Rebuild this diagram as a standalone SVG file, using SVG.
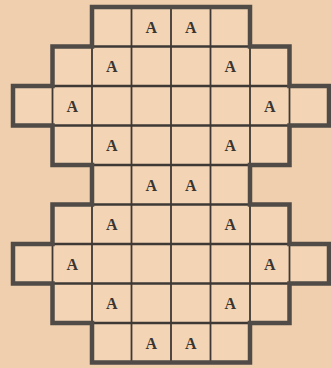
<svg xmlns="http://www.w3.org/2000/svg" width="331" height="368" viewBox="0 0 331 368">
<style>
.bg{fill:#efcfae}
.shape{fill:#f3d5b6;stroke:none}
.outline{fill:none;stroke:#504b46;stroke-width:4.5;stroke-linejoin:miter}
.h{stroke:#3e3934;stroke-width:2.4}
.v{stroke:#3e3934;stroke-width:1.8}
.a{font-family:"Liberation Serif","DejaVu Serif",serif;font-weight:bold;font-size:16px;fill:#3a3530;text-anchor:middle}
</style>
<rect class="bg" x="0" y="0" width="331" height="368"/>
<g id="board">
<polygon class="shape" points="92,7 250,7 250,46.5 289.5,46.5 289.5,86 329,86 329,125.5 289.5,125.5 289.5,165 250,165 250,204.5 289.5,204.5 289.5,244 329,244 329,283.5 289.5,283.5 289.5,323 250,323 250,362.5 92,362.5 92,323 52.5,323 52.5,283.5 13,283.5 13,244 52.5,244 52.5,204.5 92,204.5 92,165 52.5,165 52.5,125.5 13,125.5 13,86 52.5,86 52.5,46.5 92,46.5"/>
</g>
<g id="grid">
<line class="h" x1="92" y1="46.5" x2="250" y2="46.5"/>
<line class="h" x1="52.5" y1="86" x2="289.5" y2="86"/>
<line class="h" x1="52.5" y1="125.5" x2="289.5" y2="125.5"/>
<line class="h" x1="92" y1="165" x2="250" y2="165"/>
<line class="h" x1="92" y1="204.5" x2="250" y2="204.5"/>
<line class="h" x1="52.5" y1="244" x2="289.5" y2="244"/>
<line class="h" x1="52.5" y1="283.5" x2="289.5" y2="283.5"/>
<line class="h" x1="92" y1="323" x2="250" y2="323"/>
<path class="v" d="M131.5,7V46.5M171,7V46.5M210.5,7V46.5"/>
<path class="v" d="M92,46.5V86M131.5,46.5V86M171,46.5V86M210.5,46.5V86M250,46.5V86"/>
<path class="v" d="M52.5,86V125.5M92,86V125.5M131.5,86V125.5M171,86V125.5M210.5,86V125.5M250,86V125.5M289.5,86V125.5"/>
<path class="v" d="M92,125.5V165M131.5,125.5V165M171,125.5V165M210.5,125.5V165M250,125.5V165"/>
<path class="v" d="M131.5,165V204.5M171,165V204.5M210.5,165V204.5"/>
<path class="v" d="M92,204.5V244M131.5,204.5V244M171,204.5V244M210.5,204.5V244M250,204.5V244"/>
<path class="v" d="M52.5,244V283.5M92,244V283.5M131.5,244V283.5M171,244V283.5M210.5,244V283.5M250,244V283.5M289.5,244V283.5"/>
<path class="v" d="M92,283.5V323M131.5,283.5V323M171,283.5V323M210.5,283.5V323M250,283.5V323"/>
<path class="v" d="M131.5,323V362.5M171,323V362.5M210.5,323V362.5"/>
</g>
<g id="outline">
<polygon class="outline" points="92,7 250,7 250,46.5 289.5,46.5 289.5,86 329,86 329,125.5 289.5,125.5 289.5,165 250,165 250,204.5 289.5,204.5 289.5,244 329,244 329,283.5 289.5,283.5 289.5,323 250,323 250,362.5 92,362.5 92,323 52.5,323 52.5,283.5 13,283.5 13,244 52.5,244 52.5,204.5 92,204.5 92,165 52.5,165 52.5,125.5 13,125.5 13,86 52.5,86 52.5,46.5 92,46.5"/>
</g>
<g id="letters">
<text class="a" x="151.2" y="32.5">A</text>
<text class="a" x="190.7" y="32.5">A</text>
<text class="a" x="111.7" y="72">A</text>
<text class="a" x="230.2" y="72">A</text>
<text class="a" x="72.2" y="111.5">A</text>
<text class="a" x="269.7" y="111.5">A</text>
<text class="a" x="111.7" y="151">A</text>
<text class="a" x="230.2" y="151">A</text>
<text class="a" x="151.2" y="190.5">A</text>
<text class="a" x="190.7" y="190.5">A</text>
<text class="a" x="111.7" y="230">A</text>
<text class="a" x="230.2" y="230">A</text>
<text class="a" x="72.2" y="269.5">A</text>
<text class="a" x="269.7" y="269.5">A</text>
<text class="a" x="111.7" y="309">A</text>
<text class="a" x="230.2" y="309">A</text>
<text class="a" x="151.2" y="348.5">A</text>
<text class="a" x="190.7" y="348.5">A</text>
</g>
</svg>
